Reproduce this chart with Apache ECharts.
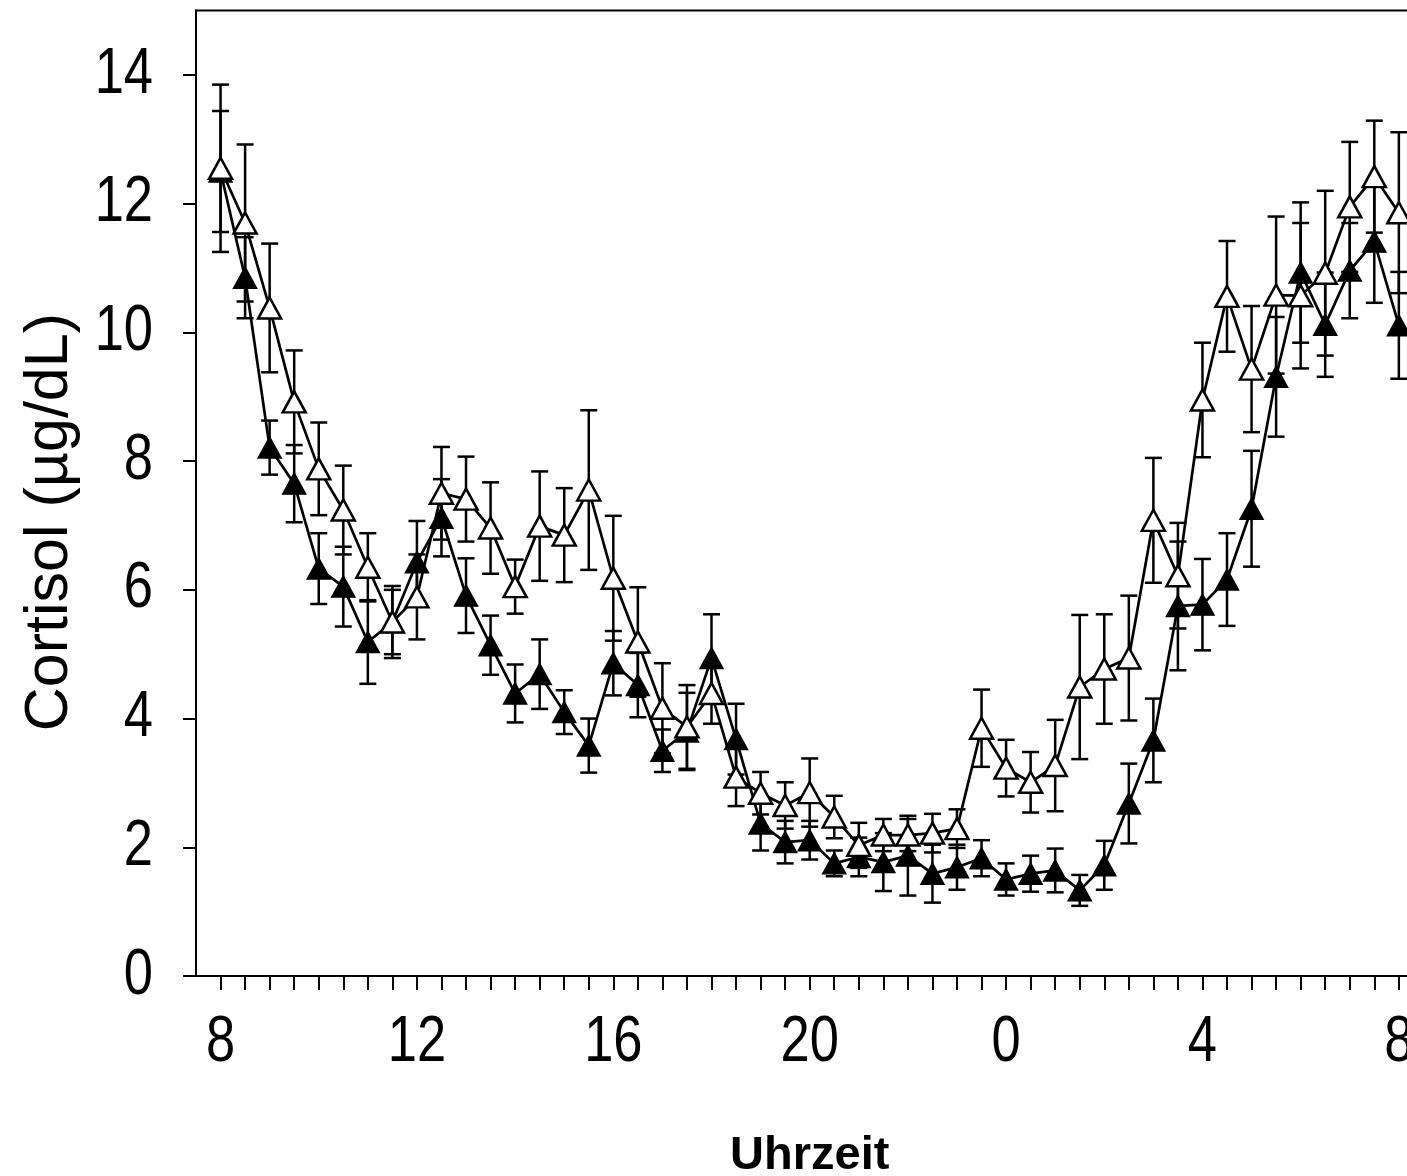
<!DOCTYPE html>
<html>
<head>
<meta charset="utf-8">
<script src="https://cdn.jsdelivr.net/npm/echarts@6/dist/echarts.min.js"></script>
<style>
html,body{margin:0;padding:0;background:#fff;}
#chart{width:1407px;height:1176px;}
</style>
</head>
<body>
<div id="chart"></div>
<script>
// time of day, hours elapsed since 8:00 (8:00 ... 8:00 next day, half-hour steps)
const times = [0,0.5,1,1.5,2,2.5,3,3.5,4,4.5,5,5.5,6,6.5,7,7.5,8,8.5,9,9.5,10,10.5,11,11.5,12,12.5,13,13.5,14,14.5,15,15.5,16,16.5,17,17.5,18,18.5,19,19.5,20,20.5,21,21.5,22,22.5,23,23.5,24];
const xTickValues = times;
const xLabelValues = [0,4,8,12,16,20,24];
const xTickLabels = ['8','12','16','20','0','4','8'];
const yLabelValues = [0,2,4,6,8,10,12,14];
const yTickLabels = ['0','2','4','6','8','10','12','14'];
const yTitle = 'Cortisol (\u00b5g/dL)';
const xTitle = 'Uhrzeit';

// open triangles: mean and SEM
const openMean = [12.55,11.70,10.38,8.92,7.88,7.24,6.35,5.50,5.89,7.50,7.41,6.96,6.05,6.99,6.85,7.55,6.18,5.19,4.16,3.87,4.39,3.09,2.84,2.65,2.85,2.47,2.03,2.19,2.19,2.22,2.29,3.85,3.23,3.01,3.27,4.49,4.77,4.94,7.08,6.22,8.95,10.56,9.43,10.58,10.57,10.92,11.95,12.42,11.86];
const openErr  = [1.30,1.22,1.00,0.80,0.72,0.69,0.53,0.56,0.66,0.72,0.66,0.71,0.42,0.85,0.73,1.24,0.97,0.85,0.70,0.65,0.47,0.45,0.33,0.36,0.53,0.33,0.35,0.25,0.25,0.30,0.30,0.60,0.44,0.47,0.71,1.12,0.85,0.97,0.97,0.82,0.89,0.86,0.98,1.22,1.13,1.28,1.01,0.87,1.25];
// filled triangles: mean and SEM
const filledMean = [12.50,10.85,8.21,7.65,6.33,6.05,5.19,5.50,6.43,7.12,5.91,5.14,4.39,4.69,4.10,3.58,4.86,4.52,3.50,3.80,4.94,3.68,2.37,2.08,2.11,1.75,1.85,1.77,1.87,1.59,1.69,1.83,1.50,1.59,1.64,1.33,1.72,2.68,3.66,5.75,5.77,6.16,7.26,9.31,10.93,10.12,10.96,11.41,10.11];
const filledErr  = [0.94,0.63,0.42,0.60,0.55,0.62,0.65,0.50,0.64,0.60,0.58,0.46,0.45,0.54,0.34,0.42,0.50,0.50,0.33,0.60,0.68,0.55,0.42,0.33,0.30,0.20,0.30,0.45,0.62,0.45,0.35,0.28,0.25,0.28,0.34,0.24,0.38,0.62,0.65,1.00,0.71,0.72,0.90,0.93,1.09,0.81,0.74,0.95,0.83];

const openData = times.map((t,i)=>[t, openMean[i]]);
const filledData = times.map((t,i)=>[t, filledMean[i]]);
const openErrData = times.map((t,i)=>[t, openMean[i], openErr[i]]);
const filledErrData = times.map((t,i)=>[t, filledMean[i], filledErr[i]]);

function renderErr(params, api){
  const x = api.value(0), v = api.value(1), e = api.value(2);
  const top = api.coord([x, v+e]);
  const bot = api.coord([x, v-e]);
  const hw = 8.5;
  const st = {stroke:'#000', lineWidth:2.5};
  return {type:'group', children:[
    {type:'line', shape:{x1:top[0], y1:top[1], x2:bot[0], y2:bot[1]}, style:st},
    {type:'line', shape:{x1:top[0]-hw, y1:top[1], x2:top[0]+hw, y2:top[1]}, style:st},
    {type:'line', shape:{x1:bot[0]-hw, y1:bot[1], x2:bot[0]+hw, y2:bot[1]}, style:st}
  ]};
}

const sans = '"Liberation Sans",Arial,Helvetica,sans-serif';
const chart = echarts.init(document.getElementById('chart'), null, {renderer:'canvas'});
chart.setOption({
  animation:false,
  backgroundColor:'#fff',
  grid:{left:196, top:10.6, width:1227.4, height:965.4, outerBoundsMode:'none', containLabel:false,
        show:true, borderColor:'#000', borderWidth:2, backgroundColor:'#fff'},
  xAxis:{
    type:'value', min:-0.5, max:24.5,
    axisLine:{show:true, onZero:false, lineStyle:{color:'#000', width:2}},
    axisTick:{show:true, inside:false, length:14, customValues:xTickValues, lineStyle:{color:'#000', width:2}},
    axisLabel:{show:false},
    splitLine:{show:false},
    name:xTitle, nameLocation:'middle', nameGap:157,
    nameTextStyle:{color:'#000', fontSize:47, fontWeight:'bold', fontFamily:sans}
  },
  yAxis:{
    type:'value', min:0, max:15,
    axisLine:{show:true, onZero:false, lineStyle:{color:'#000', width:2}},
    axisTick:{show:true, inside:false, length:13, customValues:yLabelValues, lineStyle:{color:'#000', width:2}},
    axisLabel:{show:false},
    splitLine:{show:false}
  },
  series:[
    {type:'custom', name:'filledErr', renderItem:renderErr, data:filledErrData, z:1, encode:{x:0, y:1}, clip:false},
    {type:'custom', name:'openErr', renderItem:renderErr, data:openErrData, z:1, encode:{x:0, y:1}, clip:false},
    {type:'line', name:'filled', data:filledData, z:3, symbol:'triangle', symbolSize:[23,21], showAllSymbol:true,
     lineStyle:{color:'#000', width:2.7}, itemStyle:{color:'#000', borderColor:'#000', borderWidth:1.5}},
    {type:'line', name:'open', data:openData, z:4, symbol:'triangle', symbolSize:[23,21], showAllSymbol:true,
     lineStyle:{color:'#000', width:2.7}, itemStyle:{color:'#fff', borderColor:'#000', borderWidth:2.5}}
  ]
});

// tick labels in a condensed style (scaled text), placed through the axes' own scales
const graphics = [
  {type:'text', left:20, top:313, rotation:Math.PI/2, silent:true,
   style:{text:yTitle, fill:'#000', fontSize:61, fontFamily:sans}}
];
const origin = chart.convertToPixel({xAxisIndex:0, yAxisIndex:0}, [-0.5, 0]);
graphics.push({type:'line', silent:true, shape:{x1:origin[0]-11, y1:origin[1], x2:origin[0]+1, y2:origin[1]}, style:{stroke:'#000', lineWidth:2}});
xLabelValues.forEach((v,k)=>{
  const p = chart.convertToPixel({xAxisIndex:0, yAxisIndex:0}, [v, 0]);
  graphics.push({type:'text', x:p[0], y:p[1]+67, scaleX:0.82, silent:true,
    style:{text:xTickLabels[k], fill:'#000', fontSize:64, fontFamily:sans, align:'center', verticalAlign:'middle'}});
});
yLabelValues.forEach((v,k)=>{
  const p = chart.convertToPixel({xAxisIndex:0, yAxisIndex:0}, [-0.5, v]);
  graphics.push({type:'text', x:p[0]-43, y:p[1], scaleX:0.82, silent:true,
    style:{text:yTickLabels[k], fill:'#000', fontSize:64, fontFamily:sans, align:'right', verticalAlign:'middle'}});
});
chart.setOption({graphic:graphics});
</script>
</body>
</html>
